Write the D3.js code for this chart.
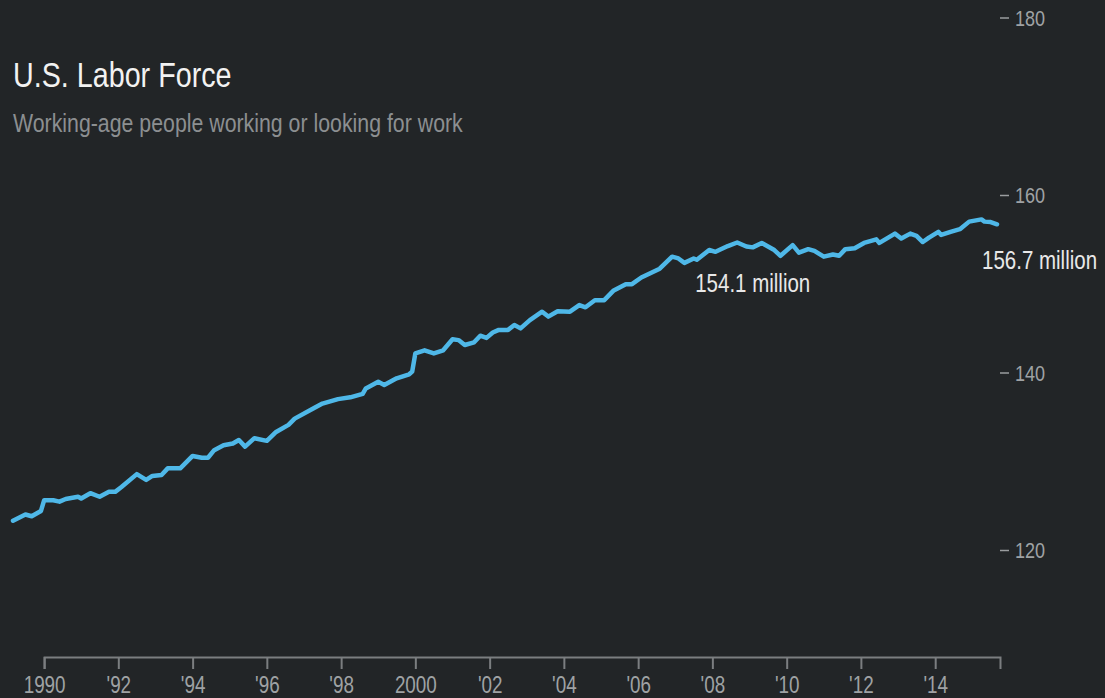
<!DOCTYPE html>
<html>
<head>
<meta charset="utf-8">
<script src="https://cdnjs.cloudflare.com/ajax/libs/d3/7.8.5/d3.min.js"></script>
<style>
  html, body { margin: 0; padding: 0; background: #222527; }
  svg { display: block; }
</style>
</head>
<body>
<div id="chart"></div>
<script>
// U.S. civilian labor force, millions
const months = [
  "1989-03", "1989-07", "1989-09", "1989-12",
  "1990-01", "1990-04", "1990-06", "1990-08", "1990-12",
  "1991-01", "1991-04", "1991-07", "1991-10", "1991-12",
  "1992-02", "1992-07", "1992-10", "1992-12",
  "1993-03", "1993-05", "1993-09",
  "1994-01", "1994-04", "1994-06", "1994-08", "1994-11",
  "1995-02", "1995-04", "1995-06", "1995-09",
  "1996-01", "1996-04", "1996-08", "1996-10",
  "1997-04", "1997-07", "1997-12",
  "1998-04", "1998-08", "1998-09",
  "1999-01", "1999-03", "1999-07", "1999-11", "1999-12",
  "2000-01", "2000-04", "2000-07", "2000-10",
  "2001-01", "2001-03", "2001-05", "2001-08", "2001-10", "2001-12",
  "2002-02", "2002-04", "2002-07", "2002-09", "2002-11",
  "2003-02", "2003-06", "2003-08", "2003-11",
  "2004-03", "2004-06", "2004-08", "2004-11",
  "2005-02", "2005-05", "2005-09", "2005-11",
  "2006-02", "2006-08", "2006-12",
  "2007-02", "2007-04", "2007-07", "2007-08", "2007-12",
  "2008-02", "2008-06", "2008-09", "2008-12",
  "2009-02", "2009-05", "2009-09", "2009-11",
  "2010-03", "2010-05", "2010-08", "2010-10",
  "2011-01", "2011-04", "2011-06", "2011-08", "2011-11",
  "2012-02", "2012-06", "2012-07", "2012-12",
  "2013-02", "2013-05", "2013-07", "2013-09", "2013-11",
  "2014-02", "2014-03", "2014-06", "2014-09", "2014-12",
  "2015-04", "2015-05", "2015-07", "2015-09"
];
const laborForce = [
  123.3, 124.0, 123.8, 124.4,
  125.6, 125.6, 125.45, 125.75, 126.0,
  125.8, 126.4, 126.0, 126.55, 126.55,
  127.1, 128.55, 127.9, 128.35,
  128.45, 129.2, 129.2,
  130.6, 130.4, 130.4, 131.25, 131.8,
  132.0, 132.4, 131.65, 132.6,
  132.3, 133.3, 134.1, 134.8,
  135.95, 136.5, 137.0,
  137.2, 137.6, 138.2,
  138.95, 138.6, 139.35, 139.8, 140.1,
  142.15, 142.5, 142.15, 142.5,
  143.75, 143.65, 143.1, 143.4, 144.15, 143.9,
  144.5, 144.8, 144.8, 145.35, 144.97,
  145.9, 146.85, 146.3, 146.9,
  146.85, 147.6, 147.35, 148.15,
  148.15, 149.2, 149.95, 149.95,
  150.7, 151.7, 153.05,
  152.85, 152.35, 152.85, 152.7, 153.8,
  153.6, 154.25, 154.65, 154.2,
  154.1, 154.6, 153.8, 153.15,
  154.35, 153.5, 153.9, 153.7,
  153.05, 153.3, 153.15, 153.9, 154.0,
  154.6, 155.0, 154.6, 155.65,
  155.1, 155.65, 155.4, 154.7, 155.2,
  155.85, 155.5, 155.85, 156.15, 157.0,
  157.25, 157.0, 156.95, 156.7
];
const yearTicks = [1990, 1992, 1994, 1996, 1998, 2000, 2002, 2004, 2006, 2008, 2010, 2012, 2014];
const fullYearTicks = [1990, 2000];
const valueTicks = [120, 140, 160, 180];
const calloutMonths = ["2009-02", "2015-09"];
const calloutLabels = ["154.1 million", "156.7 million"];
const titleText = "U.S. Labor Force";
const subtitleText = "Working-age people working or looking for work";

const width = 1105;
const height = 698;
const fontFamily = "'Liberation Sans Narrow', 'Arial Narrow', 'Liberation Sans', Arial, sans-serif";

const parseMonth = d3.timeParse("%Y-%m");
const data = months.map((m, i) => ({ month: m, date: parseMonth(m), value: laborForce[i] }));

const svg = d3.select("#chart")
    .append("svg")
    .attr("width", width)
    .attr("height", height)
    .style("background", "#222527")
    .attr("font-family", fontFamily);

// is a narrow face installed? otherwise squeeze the regular one
let probe = svg.append("text").attr("font-size", 20).text("Labor Force 154");
let wNarrow = probe.node().getComputedTextLength();
probe.attr("font-family", "'Liberation Sans', Arial, sans-serif");
let wWide = probe.node().getComputedTextLength();
probe.remove();
const squeeze = wNarrow / wWide < 0.92 ? 1 : 0.82;

function place(sel, x, y) {
    sel.attr("x", null).attr("y", null)
        .attr("transform", "translate(" + x + "," + y + ") scale(" + squeeze + ",1)");
}

let x = d3.scaleTime()
    .domain([parseMonth("1989-03"), parseMonth("2015-09")])
    .range([13, 997]);
let y = d3.scaleLinear()
    .domain([120, 180])
    .range([550, 17.5]);

// bottom axis starts at 1990 and runs a little past the last month
let axisScale = x.copy()
    .domain([new Date(1990, 0, 1), x.invert(1000)])
    .range([x(new Date(1990, 0, 1)), 1000]);

let xAxis = svg.append("g")
    .attr("class", "xaxis axis")
    .attr("transform", "translate(0,657)")
    .call(d3.axisBottom(axisScale)
        .tickValues(yearTicks.map(yr => new Date(yr, 0, 1)))
        .tickSize(12)
        .tickSizeOuter(12)
        .tickFormat(d => {
            let yr = d.getFullYear();
            return fullYearTicks.includes(yr) ? String(yr) : "'" + String(yr).slice(2);
        }));
xAxis.select(".domain").attr("stroke", "#7b7e80").attr("stroke-width", 2);
xAxis.selectAll(".tick line").attr("stroke", "#7b7e80").attr("stroke-width", 2);
xAxis.selectAll(".tick text")
    .attr("dy", null)
    .attr("fill", "#9fa2a4")
    .attr("font-size", 23)
    .attr("font-family", fontFamily)
    .attr("text-anchor", "middle")
    .call(place, 0, 36);

// right axis, dash + label, no spine
let yAxis = svg.append("g")
    .attr("class", "yaxis axis")
    .attr("transform", "translate(1000,0)")
    .call(d3.axisRight(y).tickValues(valueTicks).tickSize(9));
yAxis.select(".domain").remove();
yAxis.selectAll(".tick line").attr("stroke", "#9a9d9f").attr("stroke-width", 1.5);
yAxis.selectAll(".tick text")
    .attr("fill", "#9fa2a4")
    .attr("font-size", 22)
    .attr("font-family", fontFamily)
    .attr("text-anchor", "start")
    .attr("dy", "0.35em")
    .call(place, 15, 0);

// title block
svg.append("text")
    .attr("fill", "#f2f2f2")
    .attr("font-size", 35)
    .text(titleText)
    .call(place, 13, 87);
svg.append("text")
    .attr("fill", "#8c8f91")
    .attr("font-size", 26)
    .text(subtitleText)
    .call(place, 13, 131.5);

// the series
let line = d3.line()
    .x(d => x(d.date))
    .y(d => y(d.value));
svg.append("path")
    .datum(data)
    .attr("fill", "none")
    .attr("stroke", "#4fb8e8")
    .attr("stroke-width", 4.5)
    .attr("stroke-linejoin", "round")
    .attr("stroke-linecap", "round")
    .attr("d", line);

// value callouts under their points
calloutMonths.forEach((m, i) => {
    let pt = data.find(d => d.month === m);
    let last = i === calloutMonths.length - 1;
    svg.append("text")
        .attr("fill", "#e8e8e8")
        .attr("font-size", 25)
        .attr("text-anchor", last ? "start" : "middle")
        .text(calloutLabels[i])
        .call(place, last ? x(pt.date) - 15 : x(pt.date), y(pt.value) + 45);
});
</script>
</body>
</html>
